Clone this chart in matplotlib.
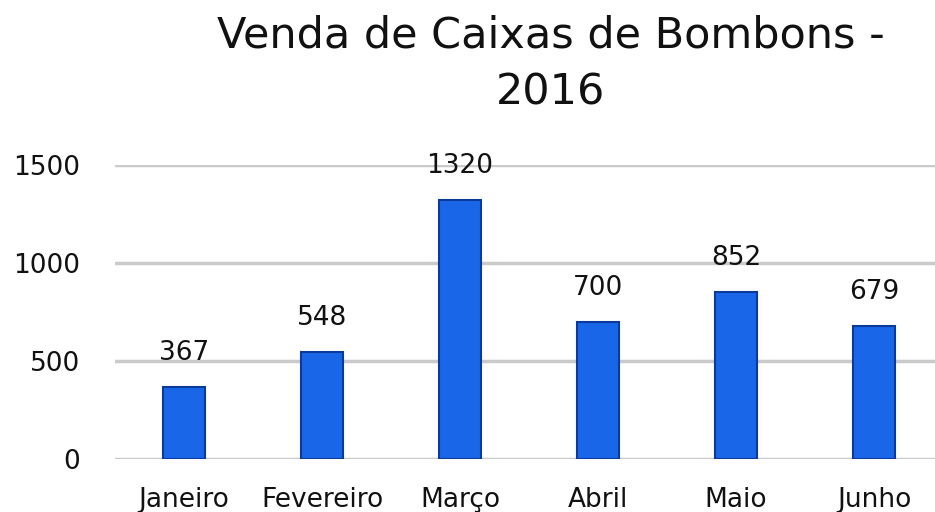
import matplotlib.pyplot as plt

meses = ["Janeiro", "Fevereiro", "Março", "Abril", "Maio", "Junho"]
vendas = [367, 548, 1320, 700, 852, 679]
yticks = [0, 500, 1000, 1500]

fig = plt.figure(figsize=(9.35, 5.12), dpi=100)
ax = fig.add_axes([115/935, 53/512, 828/935, 294/512])

x = range(len(meses))
ax.bar(x, vendas, width=0.31, color="#1a66e8", edgecolor="#0a3a9c", linewidth=1.5, zorder=3)
for i, v in zip(x, vendas):
    ax.annotate(str(v), (i, v), xytext=(0, 15), textcoords="offset points",
                ha="center", va="bottom", fontsize=19, color="#111111")

ax.set_xlim(-0.5, 5.5)
ax.set_ylim(0, 1500)
ax.set_yticks(yticks)
ax.set_xticks(list(x))
ax.set_xticklabels(meses)
ax.tick_params(axis="both", length=0, labelsize=19, colors="#111111")
ax.tick_params(axis="y", pad=25)
ax.tick_params(axis="x", pad=20)
ax.yaxis.grid(True, color="#cacaca", linewidth=2.5, zorder=0)
for s in ax.spines.values():
    s.set_visible(False)

fig.text(551/935, 1 - 64/512, "Venda de Caixas de Bombons -\n2016", ha="center", va="center",
         fontsize=31, color="#111111", linespacing=1.47)

fig.savefig("out.png", dpi=100)
